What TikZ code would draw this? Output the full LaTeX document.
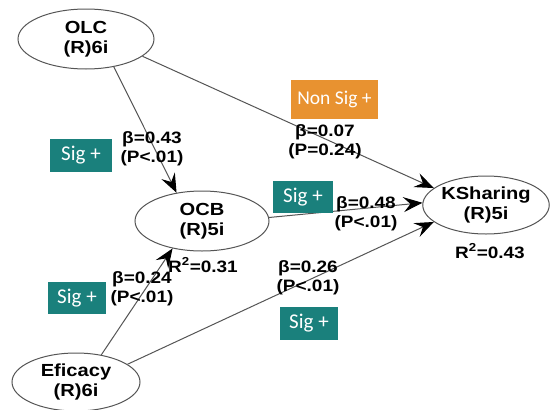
\documentclass[tikz,border=0pt]{standalone}
\usepackage{fontspec}
\setmainfont{Liberation Sans}
\newfontfamily\lbf[FakeStretch=1.15]{Liberation Sans}
\newfontfamily\sigfont{Carlito}
\usetikzlibrary{arrows.meta,shapes.geometric}
\definecolor{teal1}{RGB}{26,128,124}
\definecolor{orange1}{RGB}{232,146,48}
\definecolor{linegray}{RGB}{85,85,85}
\begin{document}
\begin{tikzpicture}[x=1pt,y=-1pt,
  var/.style={ellipse, draw=linegray, line width=1pt, inner sep=0pt, align=center, font=\lbf\bfseries\fontsize{17.5}{20}\selectfont},
  lbl/.style={align=center, font=\lbf\bfseries\fontsize{16.5}{19}\selectfont, inner sep=0pt},
  sig/.style={fill=teal1, text=white, font=\sigfont\fontsize{21}{22}\selectfont, inner sep=0pt},
  conn/.style={draw=linegray, line width=1pt, -{Stealth[length=19pt,width=15pt,inset=7pt,black]}}
]
\useasboundingbox[fill=white] (0,0) rectangle (550,410);

\node[var, minimum width=136pt, minimum height=60pt] (olc) at (86,39) {OLC\\(R)6i};
\node[var, minimum width=134pt, minimum height=60pt] (ocb) at (202,221) {OCB\\(R)5i};
\node[var, minimum width=126pt, minimum height=58pt] (ks) at (486,205) {KSharing\\(R)5i};
\node[var, minimum width=128pt, minimum height=58pt] (efi) at (76,382) {Eficacy\\(R)6i};

\draw[conn] (olc.-45) -- (ocb.132);
\draw[conn] (olc.-17) -- (ks.162);
\draw[conn] (ocb.3) -- (ks.178);
\draw[conn] (efi.47) -- (ocb.-137);
\draw[conn] (efi.19) -- (ks.-162);

\node[sig, minimum width=62pt, minimum height=33pt] (s1) at (81,155.5) {Sig +};
\node[sig, minimum width=60pt, minimum height=32pt] (s2) at (303,197) {Sig +};
\node[sig, minimum width=58pt, minimum height=32pt] (s3) at (77,298) {Sig +};
\node[sig, minimum width=58pt, minimum height=33pt] (s4) at (309,323.5) {Sig +};
\node[sig, fill=orange1, font=\sigfont\fontsize{19.5}{22}\selectfont, minimum width=87pt, minimum height=39pt] (ns) at (334.5,99.5) {Non Sig +};

\node[lbl] (l1) at (152,149) {β=0.43\\(P<.01)};
\node[lbl] (l2) at (142,289) {β=0.24\\(P<.01)};
\node[lbl] (l3) at (325,142) {β=0.07\\(P=0.24)};
\node[lbl] (l4) at (366,214) {β=0.48\\(P<.01)};
\node[lbl] (l5) at (308,278) {β=0.26\\(P<.01)};
\node[lbl] (r1) at (203,265) {R\textsuperscript{2}=0.31};
\node[lbl] (r2) at (490,251) {R\textsuperscript{2}=0.43};
\end{tikzpicture}
\end{document}
